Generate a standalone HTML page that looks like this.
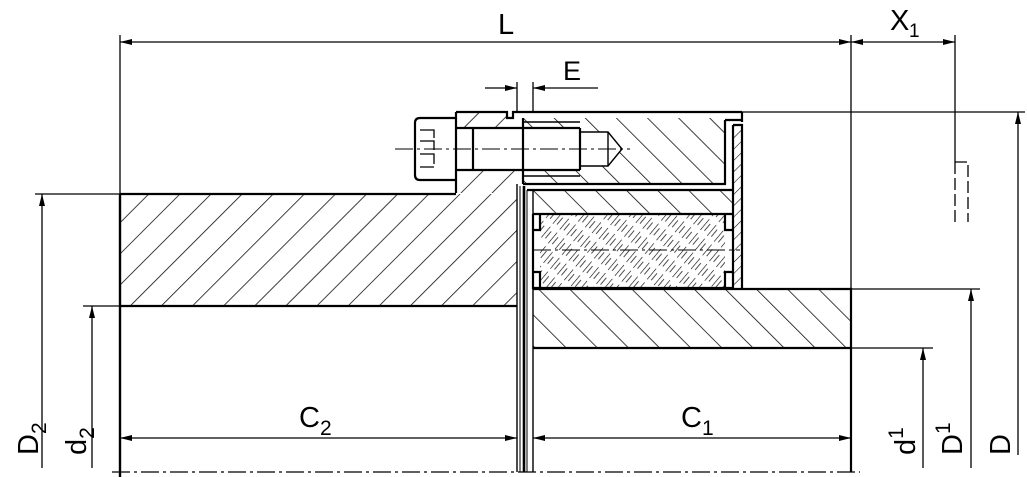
<!DOCTYPE html>
<html><head><meta charset="utf-8"><style>
html,body{margin:0;padding:0;background:#fff;}
svg{display:block;}
text{font-family:"Liberation Sans",sans-serif;fill:#000;}
</style></head><body>
<svg width="1027" height="477" viewBox="0 0 1027 477" xmlns="http://www.w3.org/2000/svg">
<defs>
<pattern id="hf" patternUnits="userSpaceOnUse" width="22" height="22" patternTransform="rotate(45)">
<line x1="0" y1="0" x2="0" y2="22" stroke="#000" stroke-width="1.5"/></pattern>
<pattern id="hb" patternUnits="userSpaceOnUse" width="22" height="22" patternTransform="rotate(-45)">
<line x1="0" y1="0" x2="0" y2="22" stroke="#000" stroke-width="1.5"/></pattern>
<pattern id="he" patternUnits="userSpaceOnUse" width="9" height="18" patternTransform="rotate(40)">
<line x1="0" y1="0" x2="0" y2="14" stroke="#000" stroke-width="1.2"/>
<line x1="4" y1="3" x2="4" y2="12" stroke="#000" stroke-width="0.7"/></pattern>
<pattern id="hp" patternUnits="userSpaceOnUse" width="8" height="8" patternTransform="rotate(45)">
<line x1="0" y1="0" x2="0" y2="8" stroke="#000" stroke-width="1.1"/></pattern>
<marker id="a" viewBox="0 0 12 6" refX="12" refY="3" markerWidth="12" markerHeight="6" orient="auto-start-reverse" markerUnits="userSpaceOnUse">
<path d="M0,0 L12,3 L0,6 z" fill="#000"/></marker>
</defs>

<rect x="120" y="194" width="397" height="112" fill="url(#hf)"/>
<path d="M456,112 H507 V118 H524 V184 H517 V193 H456 Z" fill="url(#hf)"/>
<rect x="523" y="118" width="202" height="66" fill="url(#hb)"/>
<rect x="527" y="190" width="206" height="24" fill="url(#hb)"/>
<rect x="533" y="289" width="318" height="59" fill="url(#hb)"/>
<rect x="540" y="215" width="185" height="73" fill="url(#he)"/>
<rect x="734" y="125" width="8" height="165" fill="url(#hp)"/>
<rect x="456" y="128" width="124" height="42" fill="#fff"/>
<path d="M580,132 H608 L622,149 L608,166 H580 Z" fill="#fff"/>

<g fill="none" stroke="#000">
<path d="M120,194 H456 M120,306 H517" stroke-width="2.2"/>
<line x1="120" y1="194" x2="120" y2="477" stroke-width="2.4"/>
<path d="M456,112 H507 V118 H513 V112 H742" stroke-width="2.2"/>
<line x1="456" y1="112" x2="456" y2="193" stroke-width="2.2"/>
<path d="M456,118 H420 Q415,118 415,123 V175 Q415,180 420,180 H456" stroke-width="2.2"/>
<path d="M420,130 H434 V138 M420,141 H434 V150 M420,154 H434 V164 M420,167 H434" stroke-width="1.3"/>
<path d="M456,128 H580 M456,170 H580 M473,128 V170 M580,128 V170" stroke-width="2.2"/>
<path d="M580,132 H608 L622,149 L608,166 H580 M608,132 V166" stroke-width="1.4"/>
<path d="M524,122 H580 M524,176 H580" stroke-width="1.4"/>
<path d="M742,112 V122 M725,120 H742 M725,120 V184 H523 M523,118 V184" stroke-width="2.2"/>
<path d="M733,125 H742 V290 M733,125 V290" stroke-width="2.2"/>
<line x1="517" y1="184" x2="517" y2="472" stroke-width="1.4"/>
<line x1="520" y1="186" x2="520" y2="472" stroke-width="1"/>
<line x1="524" y1="186" x2="524" y2="472" stroke-width="2.6"/>
<line x1="527" y1="190" x2="527" y2="472" stroke-width="1"/>
<line x1="533" y1="189" x2="533" y2="472" stroke-width="1.4"/>
<path d="M527,190 H733 M533,214 H733" stroke-width="2.2"/>
<path d="M533,214 V288 H733 M540,214 V230 H533 M540,288 V272 H533 M725,214 V230 H733 M725,288 V272 H733" stroke-width="2.2"/>
<path d="M533,289 H851 V472 M533,348 H851" stroke-width="2.2"/>
<line x1="851" y1="35" x2="851" y2="289" stroke-width="1.3"/>

<line x1="395" y1="149" x2="630" y2="149" stroke-width="1" stroke-dasharray="18,4,3,4"/>
<line x1="533" y1="250" x2="740" y2="250" stroke-width="1" stroke-dasharray="18,4,3,4"/>
<line x1="112" y1="472" x2="860" y2="472" stroke-width="1.3" stroke-dasharray="18,4,3,4"/>

<g stroke-width="1.3">
<line x1="120" y1="35" x2="120" y2="194"/>
<line x1="955" y1="35" x2="955" y2="162"/>
<path d="M955,162 H968 V222 M955,162 V222" stroke-dasharray="12,4"/>
<line x1="742" y1="112" x2="1025" y2="112"/>
<line x1="851" y1="289" x2="980" y2="289"/>
<line x1="851" y1="348" x2="933" y2="348"/>
<line x1="35" y1="194" x2="120" y2="194"/>
<line x1="83" y1="306" x2="120" y2="306"/>
<line x1="517" y1="82" x2="517" y2="112"/>
<line x1="533" y1="82" x2="533" y2="112"/>
<line x1="120" y1="42" x2="851" y2="42" marker-start="url(#a)" marker-end="url(#a)"/>
<line x1="851" y1="42" x2="955" y2="42" marker-start="url(#a)" marker-end="url(#a)"/>
<line x1="485" y1="88" x2="517" y2="88" marker-end="url(#a)"/>
<line x1="598" y1="88" x2="533" y2="88" marker-end="url(#a)"/>
<line x1="1018" y1="455" x2="1018" y2="112" marker-end="url(#a)"/>
<line x1="971" y1="468" x2="971" y2="289" marker-end="url(#a)"/>
<line x1="923" y1="468" x2="923" y2="348" marker-end="url(#a)"/>
<line x1="42" y1="468" x2="42" y2="194" marker-end="url(#a)"/>
<line x1="92" y1="468" x2="92" y2="306" marker-end="url(#a)"/>
<line x1="120" y1="438" x2="517" y2="438" marker-start="url(#a)" marker-end="url(#a)"/>
<line x1="533" y1="438" x2="851" y2="438" marker-start="url(#a)" marker-end="url(#a)"/>
</g>
</g>

<text x="498" y="34" font-size="29">L</text>
<text x="890" y="30" font-size="29">X</text><text x="909" y="37" font-size="19">1</text>
<text x="563" y="80" font-size="27">E</text>
<text x="299" y="427" font-size="29">C</text><text x="320" y="435" font-size="21">2</text>
<text x="681" y="427" font-size="29">C</text><text x="702" y="435" font-size="21">1</text>
<text transform="translate(38,455) rotate(-90)" font-size="29">D<tspan font-size="21" dy="8">2</tspan></text>
<text transform="translate(86,455) rotate(-90)" font-size="29">d<tspan font-size="21" dy="8">2</tspan></text>
<text transform="translate(915,455) rotate(-90)" font-size="29">d<tspan font-size="21" dy="-12">1</tspan></text>
<text transform="translate(962,455) rotate(-90)" font-size="29">D<tspan font-size="21" dy="-12">1</tspan></text>
<text transform="translate(1010,455) rotate(-90)" font-size="29">D</text>
</svg>
</body></html>
